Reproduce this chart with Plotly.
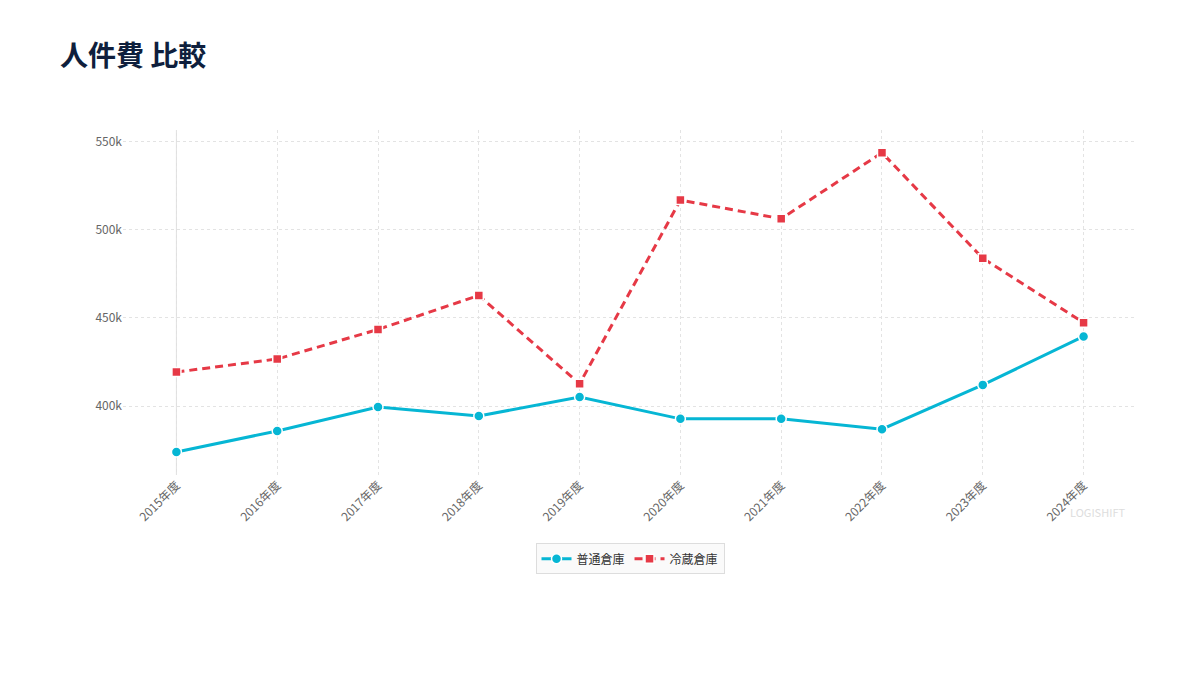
import plotly.graph_objects as go

years = ["2015年度", "2016年度", "2017年度", "2018年度", "2019年度",
         "2020年度", "2021年度", "2022年度", "2023年度", "2024年度"]
normal = [373900, 385800, 399400, 394300, 405100, 392700, 392800, 386800, 412000, 439500]
cold = [419300, 426700, 443500, 462800, 412600, 517000, 506400, 543900, 483900, 447300]

FONT = "Noto Sans CJK JP"

fig = go.Figure()
fig.add_trace(go.Scatter(
    x=years, y=normal, name="普通倉庫", mode="lines+markers",
    line=dict(color="#06b6d4", width=3),
    marker=dict(symbol="circle", size=10, color="#06b6d4", line=dict(color="white", width=1.5)),
))
fig.add_trace(go.Scatter(
    x=years, y=cold, name="冷蔵倉庫", mode="lines+markers",
    line=dict(color="#e63946", width=3, dash="8px,5px"),
    marker=dict(symbol="square", size=9, color="#e63946", line=dict(color="white", width=1.5)),
))

fig.add_shape(type="line", xref="x", yref="paper", x0=years[0], x1=years[0], y0=0, y1=1,
              line=dict(color="#dddddd", width=1), layer="below")

fig.update_layout(
    width=1200, height=675,
    paper_bgcolor="white", plot_bgcolor="white",
    font=dict(family=FONT, color="#555555", size=12),
    margin=dict(l=123, r=63, t=130, b=200),
    title=dict(text="<b>人件費 比較</b>", x=60/1200, xanchor="left", xref="container",
               y=1-56/675, yanchor="middle", yref="container",
               font=dict(family=FONT, size=28, color="#0f1f3d")),
    xaxis=dict(type="category", range=[-0.53, 9.53], showgrid=True, gridcolor="#e3e3e3",
               griddash="dot", gridwidth=1, tickangle=-45, zeroline=False, showline=False,
               ticks="", tickfont=dict(size=12, color="#666666")),
    yaxis=dict(range=[360800, 556800], tickvals=[400000, 450000, 500000, 550000],
               ticktext=["400k", "450k", "500k", "550k"], showgrid=True, gridcolor="#e3e3e3",
               griddash="dot", gridwidth=1, zeroline=False, showline=False, ticks="",
               tickfont=dict(size=12, color="#666666")),
    legend=dict(orientation="h", x=0.5, xanchor="center", y=-0.243, yanchor="middle",
                bordercolor="#dddddd", borderwidth=1, bgcolor="#fafafa",
                font=dict(size=12, color="#333333")),
    showlegend=True,
)

fig.add_annotation(text="LOGISHIFT", xref="paper", yref="paper", x=0.961, y=-0.107,
                   xanchor="center", yanchor="middle",
                   showarrow=False, font=dict(family=FONT, size=11, color="#dddddd"))

fig.write_html("out.html")
